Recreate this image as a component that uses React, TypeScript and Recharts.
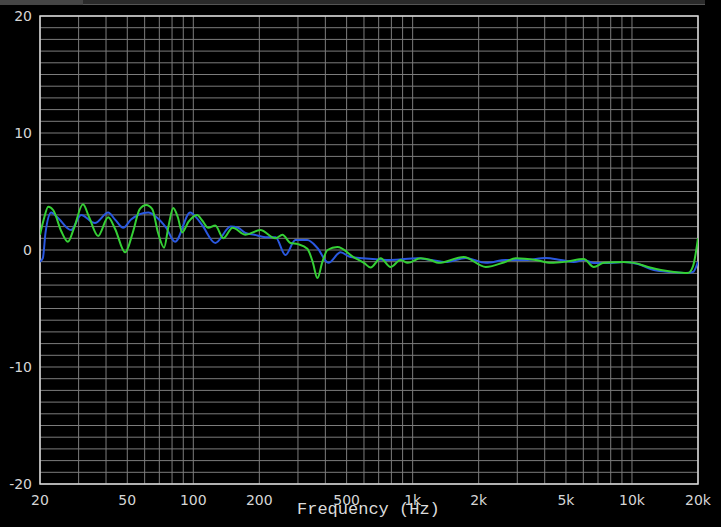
import React from 'react';
import { LineChart, Line, XAxis, YAxis, CartesianGrid, ReferenceArea } from 'recharts';

// Frequency grid (Hz) and labels
const gridFreqs = [20, 30, 40, 50, 60, 70, 80, 90, 100, 200, 300, 400, 500, 600, 700, 800, 900,
  1000, 2000, 3000, 4000, 5000, 6000, 7000, 8000, 9000, 10000, 20000];
const majorFreqs = [20, 50, 100, 200, 500, 1000, 2000, 5000, 10000, 20000];
const majorFreqLabels = ['20', '50', '100', '200', '500', '1k', '2k', '5k', '10k', '20k'];

// dB grid
const dbTicks = [-20, -19, -18, -17, -16, -15, -14, -13, -12, -11, -10, -9, -8, -7, -6, -5, -4, -3, -2, -1,
  0, 1, 2, 3, 4, 5, 6, 7, 8, 9, 10, 11, 12, 13, 14, 15, 16, 17, 18, 19, 20];
const dbLabels = [-20, -10, 0, 10, 20];

// Green series
const greenFreq = [20, 20.8, 21.8, 23, 25, 26.8, 28.5, 31.4, 33.5, 36.8, 40.9, 44, 48.9, 53, 57, 61, 65, 69,
  73.6, 77, 81, 85, 89, 95, 104, 110, 117, 126, 137, 151, 173, 202, 237, 255, 277, 300, 331, 350, 368, 388,
  409, 454, 537, 600, 643, 715, 793, 881, 949, 1087, 1208, 1312, 1709, 2154, 2656, 2951, 3640, 4266, 4990,
  6030, 6700, 7448, 9100, 10207, 11830, 13550, 15530, 18000, 18970, 20000];
const greenDb = [1.3, 2.6, 3.7, 3.4, 1.6, 0.7, 1.8, 3.9, 2.8, 1.2, 2.8, 1.8, -0.2, 1.5, 3.5, 3.85, 3.5, 1.5,
  0.2, 2.0, 3.6, 2.8, 1.5, 2.4, 3.0, 2.5, 1.9, 2.1, 1.0, 1.9, 1.3, 1.7, 1.0, 1.3, 0.6, 0.5, 0.1, -1.0, -2.4, -1.0,
  0.0, 0.25, -0.6, -1.1, -1.5, -0.7, -1.45, -0.85, -1.1, -0.7, -0.85, -1.1, -0.6, -1.45, -1.0, -0.7, -0.85, -1.1, -1.0,
  -0.77, -1.45, -1.1, -1.03, -1.1, -1.45, -1.71, -1.88, -1.97, -1.4, 1.0];

// Blue series
const blueFreq = [20, 20.6, 21.2, 22.5, 24, 27.7, 30.8, 35.6, 40.9, 44, 47.9, 52, 62.3, 68, 75.2, 82.6, 96.8,
  104, 110, 126, 148, 160, 173, 190, 213, 237, 263, 292, 331, 368, 413, 469, 521, 597, 793, 1052, 1208, 1413,
  1746, 2154, 2656, 3281, 4046, 4732, 5435, 6030, 6700, 8018, 9190, 10640, 12600, 15070, 17620, 18970, 20000];
const blueDb = [-1.0, -0.7, 1.5, 3.2, 2.8, 1.7, 3.0, 2.3, 3.2, 2.6, 1.9, 2.6, 3.2, 2.8, 1.9, 0.7, 3.2,
  2.7, 2.1, 0.6, 2.0, 1.9, 1.45, 1.3, 1.1, 1.1, -0.43, 0.85, 0.85, 0.17, -1.1, -0.2, -0.6, -0.7, -0.85, -0.7, -0.85, -1.03,
  -0.68, -1.1, -0.85, -0.85, -0.68, -0.85, -1.03, -0.85, -1.11, -1.11, -1.03, -1.2, -1.71, -1.88, -1.97, -1.88, -1.0];

const greenData = greenFreq.map((f, i) => ({ f, db: greenDb[i] }));
const blueData = blueFreq.map((f, i) => ({ f, db: blueDb[i] }));

const fmtX = (v: number) => {
  const i = majorFreqs.indexOf(v);
  return i >= 0 ? majorFreqLabels[i] : '';
};
const fmtY = (v: number) => (dbLabels.includes(v) ? String(v) : '');

const tickStyle = { fill: '#d6d6d6', fontSize: 14, fontFamily: 'DejaVu Sans' };

export default function App() {
  return (
    <div style={{ position: 'absolute', left: 0, top: 0, width: 721, height: 527, background: '#000', overflow: 'hidden' }}>
      <div style={{ position: 'absolute', left: 0, top: 0, width: 83, height: 5, background: '#454545' }} />
      <div style={{ position: 'absolute', left: 83, top: 0, width: 622, height: 4, background: '#2a2a2a', borderBottom: '1px solid #555' }} />
      <LineChart width={721} height={527} margin={{ top: 16, right: 23, bottom: 13, left: 0 }}>
        <CartesianGrid stroke="#7c7c7c" strokeWidth={1} />
        <XAxis
          dataKey="f"
          type="number"
          scale="log"
          domain={[20, 20000]}
          allowDataOverflow
          ticks={gridFreqs}
          interval={0}
          tickFormatter={fmtX}
          tick={tickStyle}
          tickLine={false}
          axisLine={false}
          tickMargin={5}
          height={30}
        />
        <YAxis
          type="number"
          domain={[-20, 20]}
          ticks={dbTicks}
          interval={0}
          tickFormatter={fmtY}
          tick={tickStyle}
          tickLine={false}
          axisLine={false}
          width={40}
        />
        <ReferenceArea x1={20} x2={20000} y1={-20} y2={20} fill="none" stroke="#d8d8d8" strokeWidth={1.5} />
        <Line data={blueData} dataKey="db" type="monotone" stroke="#2a58e0" strokeWidth={2} dot={false} isAnimationActive={false} />
        <Line data={greenData} dataKey="db" type="monotone" stroke="#35d035" strokeWidth={2} dot={false} isAnimationActive={false} />
      </LineChart>
      <div style={{ position: 'absolute', left: 297, top: 500, fontFamily: 'Liberation Mono', fontSize: 17, color: '#dcdcdc', whiteSpace: 'nowrap' }}>
        Frequency (Hz)
      </div>
    </div>
  );
}
